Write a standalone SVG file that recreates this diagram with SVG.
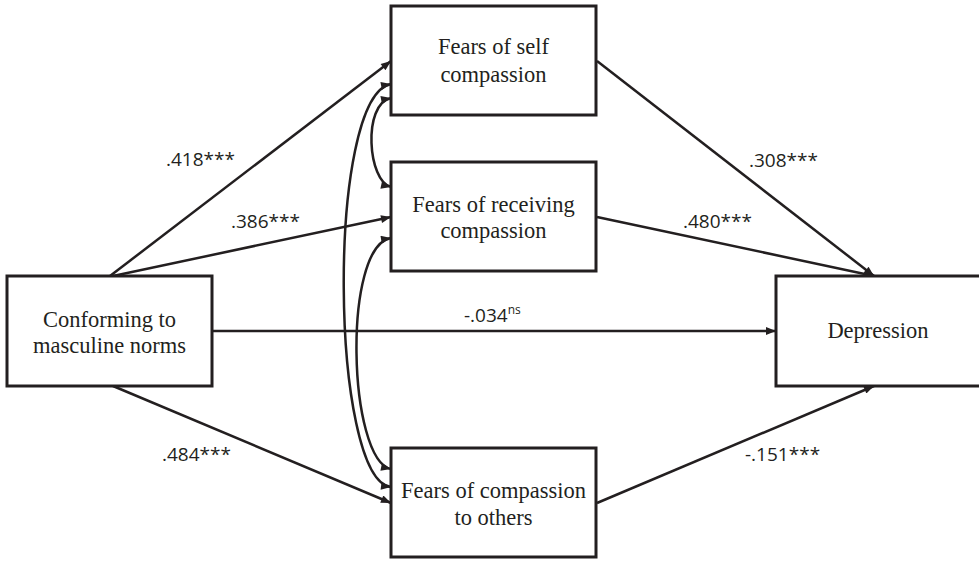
<svg xmlns="http://www.w3.org/2000/svg" width="979" height="561" viewBox="0 0 979 561">
<defs>
<marker id="ah" viewBox="0 0 10 8" refX="10" refY="4" markerWidth="11" markerHeight="8" markerUnits="userSpaceOnUse" orient="auto-start-reverse">
<path d="M0,0 L10,4 L0,8 z" fill="#231f20"/>
</marker>
<style>
.box{fill:#fff;stroke:#231f20;stroke-width:3}
.nt{font-family:"Liberation Serif","Times New Roman",serif;font-size:22.5px;fill:#231f20;text-anchor:middle}
.lb{font-family:"Open Sans","Liberation Sans",sans-serif;font-size:19px;fill:#231f20}
.c{fill:none;stroke:#231f20;stroke-width:2.5}
</style>
</defs>
<rect width="979" height="561" fill="#fff"/>
<g id="connectors">
<line class="c" x1="110" y1="276" x2="391" y2="61" marker-end="url(#ah)"/>
<line class="c" x1="113" y1="276" x2="391" y2="217" marker-end="url(#ah)"/>
<line class="c" x1="212" y1="331" x2="776" y2="331" marker-end="url(#ah)"/>
<line class="c" x1="113" y1="386" x2="391" y2="503" marker-end="url(#ah)"/>
<line class="c" x1="597" y1="61" x2="874" y2="276" marker-end="url(#ah)"/>
<line class="c" x1="597" y1="217" x2="874" y2="276" marker-end="url(#ah)"/>
<line class="c" x1="597" y1="503" x2="874" y2="386" marker-end="url(#ah)"/>
<path class="c" d="M391,98 C362,104 368,182 391,187" marker-start="url(#ah)" marker-end="url(#ah)"/>
<path class="c" d="M391,84 C326,96 330,480 391,487" marker-start="url(#ah)" marker-end="url(#ah)"/>
<path class="c" d="M391,238 C342,246 348,460 391,469" marker-start="url(#ah)" marker-end="url(#ah)"/>
</g>
<g id="self">
<rect class="box" x="391" y="6" width="205" height="109"/>
<text class="nt" x="493.5" y="54">Fears of self</text>
<text class="nt" x="493.5" y="82">compassion</text>
</g>
<g id="receiving">
<rect class="box" x="391" y="162" width="205" height="109"/>
<text class="nt" x="493.5" y="212">Fears of receiving</text>
<text class="nt" x="493.5" y="238">compassion</text>
</g>
<g id="others">
<rect class="box" x="391" y="448" width="205" height="109"/>
<text class="nt" x="493.5" y="498">Fears of compassion</text>
<text class="nt" x="493.5" y="525">to others</text>
</g>
<g id="conforming">
<rect class="box" x="7" y="276" width="205" height="110"/>
<text class="nt" x="109.5" y="327">Conforming to</text>
<text class="nt" x="109.5" y="353">masculine norms</text>
</g>
<g id="depression">
<rect class="box" x="776" y="276" width="206" height="110"/>
<text class="nt" x="878" y="338">Depression</text>
</g>
<g id="labels">
<text class="lb" x="166" y="166">.418***</text>
<text class="lb" x="231" y="228">.386***</text>
<text class="lb" x="749" y="167">.308***</text>
<text class="lb" x="683" y="228">.480***</text>
<text class="lb" x="464" y="322">-.034<tspan font-size="12" dy="-8">ns</tspan></text>
<text class="lb" x="162" y="461">.484***</text>
<text class="lb" x="745" y="461">-.151***</text>
</g>
</svg>
